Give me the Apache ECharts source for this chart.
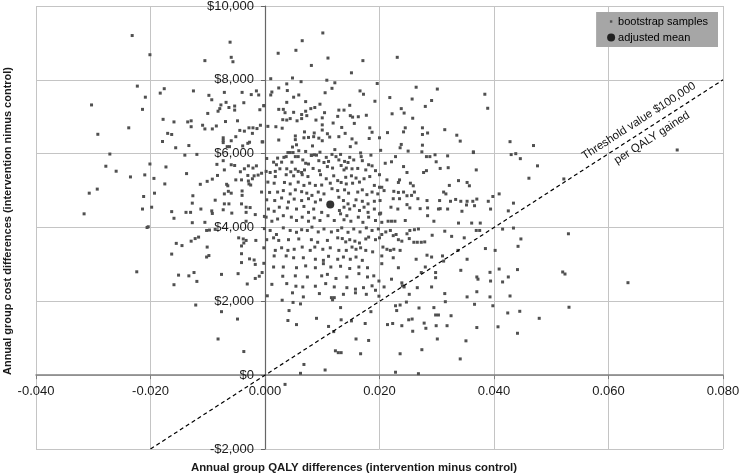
<!DOCTYPE html>
<html>
<head>
<meta charset="utf-8">
<title>Bootstrap cost-effectiveness plane</title>
<script src="https://cdn.jsdelivr.net/npm/echarts@6.0.0/dist/echarts.min.js"></script>
<style>
  html, body { margin: 0; padding: 0; background: #fff; }
  #chart { width: 741px; height: 476px; }
</style>
</head>
<body>
<div id="chart"></div>
<script>
// QALY difference, cost difference ($)
const bootstrapSamples = [
  // left of -0.02
  [-0.0232,9200],[-0.0223,7830],[-0.0209,7530],[-0.0214,7200],[-0.0303,7320],[-0.0292,6525],[-0.0238,6700],
  [-0.0271,5990],[-0.0278,5660],[-0.0260,5525],[-0.0235,5370],[-0.0210,5425],[-0.0307,4930],[-0.0293,5040],
  [-0.0316,4370],[-0.0212,4840],[-0.0214,4500],[-0.0206,4000],[-0.0224,2800],
  // -0.02..0, $6000..$10000
  [-0.0201,8680],[-0.0061,9020],[-0.0059,8610],[-0.0056,8490],[-0.0105,8520],[-0.0183,7640],[-0.0176,7760],
  [-0.0125,7700],[-0.0098,7580],[-0.0093,7460],[-0.0071,7660],[-0.0068,7390],[-0.0040,7660],[-0.0037,7380],
  [-0.0024,7600],[-0.0015,7700],[-0.0011,7590],[-0.0002,7300],[-0.0009,7190],[-0.0077,7320],[-0.0079,7220],
  [-0.0082,7150],[-0.0063,7250],[-0.0053,7290],[-0.0053,7180],[-0.0100,7090],[-0.0178,6930],[-0.0159,6860],
  [-0.0135,6860],[-0.0129,6890],[-0.0129,6730],[-0.0109,6770],[-0.0105,6670],[-0.0092,6670],[-0.0085,6750],
  [-0.0069,6870],[-0.0048,6890],[-0.0008,6770],[-0.0044,6630],[-0.0036,6610],[-0.0028,6700],[-0.0021,6700],
  [-0.0014,6680],[-0.0022,6550],[-0.0170,6550],[-0.0163,6520],[-0.0179,6330],[-0.0156,6160],[-0.0133,6220],
  [-0.0073,6430],[-0.0073,6360],[-0.0073,6300],[-0.0059,6350],[-0.0051,6460],[-0.0027,6310],[-0.0030,6280],
  [-0.0039,6210],[-0.0005,6320],[-0.0066,6190],[-0.0062,6190],[-0.0140,5960],[-0.0119,5980],
  // 0..0.02, $6000..$10000
  [0.0101,9270],[0.0065,9060],[0.0023,8720],[0.0054,8800],[0.0110,8590],[0.0081,8390],[0.0171,8520],
  [0.0151,8190],[0.0010,8030],[0.0048,8050],[0.0063,7950],[0.0108,7990],[0.0122,7920],[0.0196,7900],
  [0.0038,7890],[0.0012,7670],[0.0010,7590],[0.0024,7780],[0.0039,7710],[0.0059,7590],[0.0050,7530],
  [0.0105,7650],[0.0117,7770],[0.0166,7700],[0.0172,7610],[0.0192,7420],[-0.0002,7300],[0.0038,7390],
  [0.0071,7410],[0.0096,7340],[0.0087,7250],[0.0080,7220],[0.0024,7200],[0.0032,7200],[0.0035,7110],
  [0.0050,7120],[0.0071,7150],[0.0064,7060],[0.0129,7180],[0.0138,7180],[0.0148,7310],[0.0104,7110],
  [0.0031,6920],[0.0038,6910],[0.0044,6950],[0.0073,7030],[0.0056,6890],[0.0064,6950],[0.0089,6910],
  [0.0100,6970],[0.0127,7010],[0.0119,6830],[0.0149,7030],[0.0153,6990],[0.0163,7000],[0.0177,7040],
  [0.0156,6820],[0.0005,6740],[0.0019,6730],[0.0030,6690],[0.0069,6590],[0.0100,6780],[0.0100,6640],
  [0.0109,6540],[0.0086,6560],[0.0134,6710],[0.0183,6700],[0.0187,6580],[0.0182,6410],[0.0053,6480],
  [0.0053,6380],[0.0024,6370],[0.0068,6430],[0.0076,6440],[0.0085,6460],[0.0094,6420],[0.0100,6350],
  [0.0113,6450],[0.0129,6460],[0.0140,6550],[0.0152,6400],[0.0055,6240],[0.0048,6180],[0.0083,6210],
  [0.0059,6080],[0.0071,6060],[0.0096,6040],[0.0122,6110],[0.0149,6190],[0.0159,6290],[0.0200,6430],
  [0.0202,6090],[-0.0004,6320],[0.0040,6030],[0.0044,6030],[0.0049,6030],[0.0081,5960],[0.0086,5970],
  [0.0117,5980],[0.0132,5980],[0.0167,6020],
  // 0.02..0.04, $6000..$10000
  [0.0231,8610],[0.0264,7800],[0.0301,7750],[0.0218,7520],[0.0257,7480],[0.0291,7440],[0.0384,7610],
  [0.0389,7230],[0.0280,7280],[0.0238,7220],[0.0222,7080],[0.0243,7100],[0.0258,6960],[0.0245,6700],
  [0.0242,6590],[0.0214,6570],[0.0275,6700],[0.0275,6520],[0.0284,6560],[0.0314,6650],[0.0335,6500],
  [0.0341,6340],[0.0238,6250],[0.0236,6160],[0.0250,6070],[0.0275,6230],[0.0274,6050],[0.0364,6050],
  // -0.02..0, $2000..$6000
  [-0.0201,5720],[-0.0173,5640],[-0.0194,5330],[-0.0175,5180],[-0.0193,4930],[-0.0198,4550],[-0.0137,5460],
  [-0.0084,5710],[-0.0073,5810],[-0.0059,5700],[-0.0053,5680],[-0.0043,5510],[-0.0036,5590],[-0.0029,5670],
  [-0.0021,5610],[-0.0015,5670],[-0.0006,5470],[-0.0012,5420],[-0.0019,5400],[-0.0030,5410],[-0.0071,5560],
  [-0.0083,5410],[-0.0092,5310],[-0.0101,5250],[-0.0113,5170],[-0.0067,5170],[-0.0065,5130],[-0.0051,5290],
  [-0.0041,5290],[-0.0029,5260],[-0.0028,5180],[-0.0025,5150],[-0.0022,5320],[-0.0064,4980],[-0.0059,4930],
  [-0.0071,4910],[-0.0040,4990],[-0.0040,4870],[-0.0006,4960],[-0.0126,4860],[-0.0087,4740],[-0.0071,4640],
  [-0.0063,4640],[-0.0041,4640],[-0.0033,4550],[-0.0026,4540],[-0.0127,4660],[-0.0112,4500],[-0.0163,4430],
  [-0.0138,4410],[-0.0130,4410],[-0.0093,4450],[-0.0092,4380],[-0.0073,4480],[-0.0058,4390],[-0.0033,4410],
  [-0.0017,4350],[-0.0001,4300],[-0.0159,4250],[-0.0127,4130],[-0.0105,4140],[-0.0033,4170],[-0.0204,4020],
  [-0.0102,3920],[-0.0097,3930],[-0.0087,3950],[-0.0116,3740],[-0.0122,3700],[-0.0129,3630],[-0.0046,3720],
  [-0.0038,3690],[-0.0033,3650],[-0.0037,3580],[-0.0041,3500],[-0.0016,3650],[-0.0155,3570],[-0.0145,3510],
  [-0.0101,3470],[-0.0041,3290],[-0.0163,3280],[-0.0102,3200],[-0.0098,3240],[-0.0041,3050],[-0.0027,3150],
  [-0.0019,3120],[-0.0017,3000],[-0.0002,3030],[-0.0151,2710],[-0.0133,2690],[-0.0124,2780],[-0.0119,2540],
  [-0.0076,2730],[-0.0047,2750],[-0.0159,2450],[-0.0031,2470],[-0.0017,2620],[-0.0010,2680],[-0.0005,2780],
  // 0..0.02, $2000..$6000
  [0.0003,5870],[0.0015,5770],[0.0022,5880],[0.0033,5900],[0.0037,5920],[0.0053,5920],[0.0058,5920],
  [0.0081,5950],[0.0090,5960],[0.0107,5900],[0.0124,5920],[0.0148,5900],[0.0168,5920],[0.0185,5960],
  [0.0020,5700],[0.0029,5770],[0.0047,5770],[0.0066,5830],[0.0071,5740],[0.0076,5720],[0.0094,5810],
  [0.0103,5760],[0.0111,5790],[0.0129,5830],[0.0139,5790],[0.0145,5760],[0.0155,5830],[0.0170,5810],
  [0.0181,5700],[0.0187,5670],
  [0.0002,5520],[0.0009,5490],[0.0018,5520],[0.0026,5590],[0.0038,5590],[0.0045,5510],[0.0053,5580],
  [0.0058,5520],[0.0064,5490],[0.0069,5560],[0.0084,5600],[0.0095,5540],[0.0109,5650],[0.0118,5610],
  [0.0133,5680],[0.0138,5560],[0.0142,5610],[0.0152,5590],[0.0162,5600],[0.0176,5560],[0.0193,5540],
  [0.0018,5380],[0.0037,5430],[0.0050,5400],[0.0065,5430],[0.0075,5380],[0.0097,5430],[0.0107,5320],
  [0.0120,5400],[0.0127,5270],[0.0141,5360],[0.0151,5400],[0.0159,5340],[0.0173,5320],[0.0183,5380],
  [0.0200,5430],
  [0.0005,5230],[0.0016,5200],[0.0034,5220],[0.0044,5180],[0.0058,5230],[0.0068,5140],[0.0078,5200],
  [0.0088,5140],[0.0099,5150],[0.0114,5200],[0.0133,5220],[0.0142,5180],[0.0153,5200],[0.0165,5230],
  [0.0191,5140],[0.0200,5090],
  [0.0008,4950],[0.0022,4960],[0.0032,5000],[0.0044,4910],[0.0053,5020],[0.0064,4970],[0.0073,4930],
  [0.0082,4870],[0.0093,4960],[0.0103,4910],[0.0117,5050],[0.0127,5000],[0.0139,5020],[0.0146,4930],
  [0.0162,4960],[0.0170,5020],[0.0178,4890],[0.0187,4960],[0.0197,4910],
  [0.0003,4750],[0.0017,4730],[0.0029,4800],[0.0041,4690],[0.0051,4770],[0.0064,4730],[0.0076,4780],
  [0.0088,4690],[0.0097,4750],[0.0129,4820],[0.0137,4730],[0.0145,4640],[0.0159,4750],[0.0170,4710],
  [0.0180,4640],[0.0191,4710],[0.0201,4730],
  [0.0006,4500],[0.0016,4440],[0.0025,4550],[0.0039,4530],[0.0055,4500],[0.0068,4570],[0.0076,4410],
  [0.0085,4500],[0.0099,4410],[0.0130,4460],[0.0138,4550],[0.0148,4500],[0.0156,4590],[0.0165,4460],
  [0.0173,4550],[0.0180,4410],[0.0191,4500],[0.0200,4370],
  [0.0002,4280],[0.0012,4170],[0.0022,4230],[0.0032,4320],[0.0046,4280],[0.0055,4190],[0.0065,4280],
  [0.0076,4170],[0.0086,4260],[0.0096,4190],[0.0110,4320],[0.0121,4190],[0.0132,4370],[0.0138,4210],
  [0.0143,4320],[0.0150,4170],[0.0163,4280],[0.0171,4140],[0.0181,4280],[0.0193,4190],[0.0202,4390],
  [-0.0001,3970],[0.0009,3920],[0.0020,3810],[0.0032,3990],[0.0044,3920],[0.0055,3870],[0.0064,3940],
  [0.0074,3920],[0.0082,4010],[0.0093,3880],[0.0103,3960],[0.0116,3880],[0.0127,3920],[0.0134,3990],
  [0.0145,3870],[0.0155,3960],[0.0166,3880],[0.0177,3990],[0.0187,3920],[0.0198,3960],
  [0.0003,3670],[0.0015,3720],[0.0024,3650],[0.0041,3670],[0.0059,3690],[0.0081,3670],[0.0092,3600],
  [0.0109,3650],[0.0127,3720],[0.0135,3700],[0.0141,3610],[0.0148,3670],[0.0157,3630],[0.0165,3580],
  [0.0176,3690],[0.0181,3740],[0.0193,3670],[0.0200,3720],
  [-0.0002,3450],[0.0018,3380],[0.0029,3450],[0.0040,3380],[0.0051,3410],[0.0065,3470],[0.0079,3380],
  [0.0087,3470],[0.0101,3410],[0.0114,3450],[0.0129,3380],[0.0142,3380],[0.0152,3470],[0.0159,3410],
  [0.0167,3450],[0.0176,3380],[0.0188,3340],
  [0.0016,3230],[0.0037,3230],[0.0050,3180],[0.0067,3180],[0.0088,3140],[0.0102,3110],[0.0111,3220],
  [0.0127,3140],[0.0137,3200],[0.0149,3140],[0.0159,3200],[0.0170,3110],
  [0.0015,2930],[0.0032,2930],[0.0055,2910],[0.0071,2960],[0.0088,2910],[0.0102,3020],[0.0115,2930],
  [0.0132,2950],[0.0148,2890],[0.0164,2930],[0.0179,2910],
  [0.0031,2680],[0.0053,2690],[0.0074,2660],[0.0099,2690],[0.0109,2730],[0.0124,2620],[0.0143,2660],
  [0.0164,2750],[0.0179,2660],[0.0190,2690],
  [0.0012,2460],[0.0038,2480],[0.0054,2410],[0.0066,2390],[0.0088,2410],[0.0106,2480],[0.0121,2390],
  [0.0143,2370],[0.0158,2330],[0.0172,2370],[0.0187,2420],
  [0.0004,2150],[0.0048,2230],[0.0067,2120],[0.0095,2210],[0.0116,2100],[0.0121,2100],[0.0137,2190],
  [0.0158,2230],[0.0177,2190],[0.0193,2300],[0.0199,2140],
  // 0.02..0.04, $2000..$6000
  [0.0210,5740],[0.0221,5780],[0.0228,5920],[0.0242,5650],[0.0248,5490],[0.0282,5920],[0.0288,5920],
  [0.0297,5970],[0.0319,5940],[0.0364,6030],[0.0299,5780],[0.0306,5600],[0.0320,5620],[0.0282,5540],
  [0.0277,5490],[0.0369,5560],
  [0.0213,5290],[0.0235,5290],[0.0233,5220],[0.0254,5200],[0.0259,5130],[0.0204,5090],[0.0338,5270],
  [0.0353,5220],[0.0357,5130],[0.0322,5140],[0.0312,4960],[0.0316,4910],
  [0.0208,5000],[0.0225,4980],[0.0233,4950],[0.0242,4960],[0.0261,4960],[0.0248,4860],[0.0256,4870],
  [0.0224,4780],[0.0235,4780],[0.0248,4620],[0.0267,4780],[0.0283,4730],[0.0305,4730],[0.0324,4710],
  [0.0333,4760],[0.0342,4710],[0.0353,4710],[0.0363,4710],[0.0370,4770],[0.0390,4710],[0.0398,4840],
  [0.0352,4610],
  [0.0220,4550],[0.0232,4500],[0.0253,4530],[0.0271,4510],[0.0284,4530],[0.0303,4500],[0.0306,4510],
  [0.0319,4500],[0.0344,4440],[0.0366,4590],
  [0.0201,4370],[0.0215,4170],[0.0221,4170],[0.0227,4170],[0.0204,4140],[0.0245,4190],[0.0284,4320],
  [0.0295,4170],[0.0338,4120],[0.0361,4120],[0.0376,4120],
  [0.0204,3810],[0.0211,3880],[0.0219,3920],[0.0224,3780],[0.0229,3810],[0.0233,3670],[0.0239,3630],
  [0.0248,3830],[0.0253,3920],[0.0261,3940],[0.0268,3960],[0.0252,3700],[0.0260,3600],[0.0266,3600],
  [0.0273,3600],[0.0279,3610],[0.0292,3790],[0.0314,3900],[0.0326,3760],[0.0348,3720],[0.0369,3920],
  [0.0375,3920],[0.0385,3430],[0.0402,3380],
  [0.0206,3470],[0.0213,3410],[0.0219,3380],[0.0225,3410],[0.0236,3380],[0.0204,3230],[0.0224,3180],
  [0.0264,3140],[0.0283,3250],[0.0291,3200],[0.0310,3230],[0.0337,3380],[0.0312,3090],[0.0353,3140],
  [0.0204,3020],[0.0233,2910],[0.0280,2930],[0.0298,2780],[0.0342,2840],[0.0370,2660],[0.0372,2600],
  [0.0298,2640],[0.0221,2600],[0.0273,2780],
  [0.0199,2550],[0.0208,2390],[0.0239,2500],[0.0240,2420],[0.0243,2390],[0.0266,2370],[0.0291,2390],
  [0.0314,2210],[0.0353,2120],[0.0370,2260],[0.0252,2190],
  // $0..$2000 and below
  [-0.0121,1900],[-0.0076,1720],[-0.0048,1520],[-0.0082,980],[-0.0037,640],[0.0030,2030],[0.0049,1970],
  [0.0062,1930],[0.0042,1750],[0.0040,1480],[0.0055,1370],[0.0090,1540],[0.0132,1830],[0.0111,1320],
  [0.0120,1180],[0.0133,1500],[0.0151,1470],[0.0175,1400],[0.0185,1720],[0.0159,980],[0.0181,940],
  [0.0167,580],[0.0123,660],[0.0128,610],[0.0133,610],[0.0068,290],[0.0105,140],[0.0062,50],[0.0118,2040],
  [0.0228,1880],[0.0236,1900],[0.0230,1750],[0.0247,1980],[0.0269,1820],[0.0295,1830],[0.0298,1630],
  [0.0303,1630],[0.0325,1610],[0.0315,1990],[0.0366,1920],[0.0398,1880],[0.0214,1370],[0.0223,1400],
  [0.0239,1340],[0.0251,1500],[0.0257,1520],[0.0258,1190],[0.0278,1410],[0.0281,1270],[0.0299,1340],
  [0.0318,1340],[0.0370,1290],[0.0301,980],[0.0351,930],[0.0236,580],[0.0274,690],[0.0341,440],
  [0.0228,80],[0.0268,40],[0.0035,-250],
  // right of 0.04
  [0.0428,6325],[0.0469,6220],[0.0430,5975],[0.0438,6000],[0.0446,5865],[0.0476,5670],[0.0461,5335],
  [0.0522,5315],[0.0720,6100],[0.0409,4910],[0.0434,4660],[0.0425,4450],[0.0394,4500],[0.0415,3957],
  [0.0434,3985],[0.0530,3830],[0.0447,3690],[0.0442,3490],[0.0441,2860],[0.0409,2875],[0.0425,2660],
  [0.0415,2525],[0.0428,2145],[0.0520,2795],[0.0524,2740],[0.0634,2505],[0.0531,1840],[0.0479,1540],
  [0.0445,1730],[0.0424,1685],[0.0441,1135],[0.0407,1310],[0.0393,2120],[0.0393,2785],[0.0394,2550]
];
const adjustedMean = [[0.0114, 4620]];
const thresholdLine = [[-0.02, -2000], [0.08, 8000]];
const qalyTicks = { min: -0.04, max: 0.08, interval: 0.02 };
const costTicks = { min: -2000, max: 10000, interval: 2000 };

const chart = echarts.init(document.getElementById('chart'));
const font = "'Liberation Sans', Arial, sans-serif";

const gridBox = { left: 36, right: 18, top: 6, bottom: 27 };
const plotW = 741 - gridBox.left - gridBox.right;
const plotH = 476 - gridBox.top - gridBox.bottom;
// move each axis from the grid edge onto the other axis's zero
const xAxisShift = -plotH * (0 - costTicks.min) / (costTicks.max - costTicks.min);
const yAxisShift = -plotW * (0 - qalyTicks.min) / (qalyTicks.max - qalyTicks.min);

chart.setOption({
  animation: false,
  backgroundColor: '#fff',
  grid: Object.assign({ containLabel: false, outerBoundsMode: 'none' }, gridBox),
  legend: {
    data: [
      { name: 'bootstrap samples', icon: 'path://M0,0M10,10M3.5,3.5h3v3h-3z' },
      { name: 'adjusted mean', icon: 'circle' }
    ],
    orient: 'vertical',
    right: 23,
    top: 12,
    backgroundColor: '#a6a6a6',
    padding: [4, 10, 4, 11],
    itemGap: 5,
    itemWidth: 8,
    itemHeight: 8,
    textStyle: { fontFamily: font, fontSize: 11, color: '#000', padding: [0, 0, 0, -2] }
  },
  xAxis: {
    type: 'value',
    min: qalyTicks.min, max: qalyTicks.max, interval: qalyTicks.interval,
    offset: xAxisShift,
    axisLine: { onZero: false, lineStyle: { color: '#808080', width: 1.5 } },
    axisTick: { show: true, length: 4, lineStyle: { color: '#808080' } },
    axisLabel: {
      margin: 10, fontFamily: font, fontSize: 13, color: '#1a1a1a',
      formatter: v => Math.abs(v) < 1e-9 ? '0.000' : v.toFixed(3)
    },
    splitLine: { show: true, lineStyle: { color: '#c4c4c4', width: 1 } }
  },
  yAxis: {
    type: 'value',
    min: costTicks.min, max: costTicks.max, interval: costTicks.interval,
    offset: yAxisShift,
    axisLine: { show: true, onZero: false, lineStyle: { color: '#666', width: 1.2 } },
    axisTick: { show: true, length: 4, lineStyle: { color: '#666' } },
    axisLabel: {
      margin: 11, fontFamily: font, fontSize: 13, color: '#1a1a1a',
      formatter: v => (v < 0 ? '-' : '') + '$' + Math.abs(v).toLocaleString('en-US')
    },
    splitLine: { show: true, lineStyle: { color: '#c4c4c4', width: 1 } }
  },
  series: [
    {
      name: 'bootstrap samples',
      type: 'scatter',
      symbol: 'rect',
      symbolSize: 3,
      itemStyle: { color: '#505050', opacity: 1 },
      data: bootstrapSamples,
      z: 2
    },
    {
      name: 'threshold',
      type: 'line',
      data: thresholdLine,
      symbol: 'none',
      lineStyle: { color: '#000', width: 1.2, type: [4, 3] },
      silent: true,
      z: 3
    },
    {
      name: 'adjusted mean',
      type: 'scatter',
      symbol: 'circle',
      symbolSize: 8,
      itemStyle: { color: '#000' },
      data: adjustedMean,
      z: 4
    }
  ]
});

// labels along the threshold line and the axis titles
const p0 = chart.convertToPixel({ gridIndex: 0 }, thresholdLine[0]);
const p1 = chart.convertToPixel({ gridIndex: 0 }, thresholdLine[1]);
const angle = Math.atan2(p0[1] - p1[1], p1[0] - p0[0]);
const aboveAt = chart.convertToPixel({ gridIndex: 0 }, [0.0653, 6885]);
const belowAt = chart.convertToPixel({ gridIndex: 0 }, [0.0676, 6425]);

chart.setOption({
  graphic: [
    {
      type: 'text', x: aboveAt[0], y: aboveAt[1], rotation: angle,
      style: { text: 'Threshold value $100,000', fontFamily: font, fontSize: 11.5,
        fill: '#111', align: 'center', verticalAlign: 'middle' }
    },
    {
      type: 'text', x: belowAt[0], y: belowAt[1], rotation: angle,
      style: { text: 'per QALY gained', fontFamily: font, fontSize: 11.5,
        fill: '#111', align: 'center', verticalAlign: 'middle' }
    },
    {
      type: 'text', x: 354, y: 468,
      style: { text: 'Annual group QALY differences (intervention minus control)',
        fontFamily: font, fontWeight: 'bold', fontSize: 11.4, fill: '#1a1a1a',
        align: 'center', verticalAlign: 'middle' }
    },
    {
      type: 'text', x: 8, y: 221, rotation: Math.PI / 2,
      style: { text: 'Annual group cost differences (intervention nimus control)',
        fontFamily: font, fontWeight: 'bold', fontSize: 11, fill: '#1a1a1a',
        align: 'center', verticalAlign: 'middle' }
    }
  ]
});
</script>
</body>
</html>
